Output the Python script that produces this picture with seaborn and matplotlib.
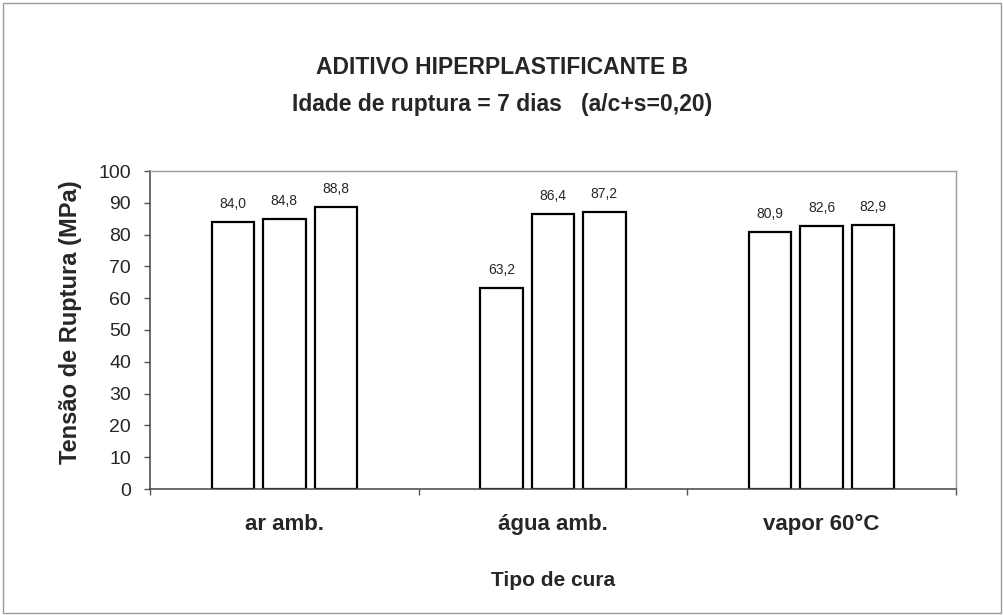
import pandas as pd
import matplotlib
matplotlib.use("Agg")
import matplotlib.pyplot as plt
import seaborn as sns
from matplotlib.patches import Rectangle

# =========================
# DADOS (MPa)
# =========================
tipos_cura = ["ar amb.", "água amb.", "vapor 60°C"]
serie_1 = [84.0, 63.2, 80.9]
serie_2 = [84.8, 86.4, 82.6]
serie_3 = [88.8, 87.2, 82.9]
series = ["1", "2", "3"]
yticks = list(range(0, 101, 10))

titulo = "ADITIVO HIPERPLASTIFICANTE B"
subtitulo = "Idade de ruptura = 7 dias   (a/c+s=0,20)"
ylabel = "Tensão de Ruptura (MPa)"
xlabel = "Tipo de cura"

df = pd.DataFrame({
    "cura": tipos_cura * 3,
    "tensao": serie_1 + serie_2 + serie_3,
    "serie": [s for s in series for _ in tipos_cura],
})

# =========================
# ESTILO
# =========================
sns.set_style("ticks")
plt.rcParams["font.family"] = ["Liberation Sans", "DejaVu Sans"]

W, H = 1004, 615
fig = plt.figure(figsize=(W / 100, H / 100), dpi=100)
ax = fig.add_axes([150 / W, 1 - 489 / H, 806 / W, 318 / H])

sns.barplot(
    data=df, x="cura", y="tensao", hue="serie",
    order=tipos_cura, hue_order=series,
    palette=["white"] * 3, saturation=1,
    edgecolor="black", linewidth=1.6,
    width=0.574, gap=0.175, legend=False, ax=ax,
)

# rótulos de valor com vírgula decimal
for cont in ax.containers:
    ax.bar_label(cont, labels=[f"{v:.1f}".replace(".", ",") for v in cont.datavalues],
                 padding=8, fontsize=10)

ax.set_xlim(-0.5, 2.5)
ax.set_ylim(0, 100)
ax.set_yticks(yticks)
ax.set_xlabel("")
ax.set_ylabel("")

# ticks nas divisões entre grupos, rótulos no centro
ax.set_xticks([-0.5, 0.5, 1.5, 2.5], labels=[""] * 4)
ax.set_xticks([0, 1, 2], labels=tipos_cura, minor=True, fontweight="bold", fontsize=16)
ax.tick_params(axis="x", which="minor", length=0, pad=18)
ax.tick_params(axis="x", which="major", direction="out", length=4.5, width=1, color="#555555")
ax.tick_params(axis="y", direction="out", length=4.5, width=1, color="#555555",
               labelsize=14, pad=9)

for side in ["left", "bottom"]:
    ax.spines[side].set_color("#444444")
    ax.spines[side].set_linewidth(1.1)
for side in ["top", "right"]:
    ax.spines[side].set_visible(True)
    ax.spines[side].set_color("#999999")
    ax.spines[side].set_linewidth(1.0)

fig.text(0.5, 1 - 67 / H, titulo, ha="center", va="center", fontsize=16.5, fontweight="bold")
fig.text(0.5, 1 - 105 / H, subtitulo, ha="center", va="center", fontsize=16.5, fontweight="bold")
fig.text(71 / W, 1 - 322 / H, ylabel, ha="center", va="center", rotation=90,
         fontsize=17, fontweight="bold")
fig.text(553 / W, 1 - 581 / H, xlabel, ha="center", va="center", fontsize=15, fontweight="bold")

# moldura da figura
fig.patches.append(Rectangle((3 / W, 2 / H), 1 - 6 / W, 1 - 5 / H, transform=fig.transFigure,
                             fill=False, edgecolor="#999999", linewidth=1.0))

fig.savefig("out.png", dpi=100)
